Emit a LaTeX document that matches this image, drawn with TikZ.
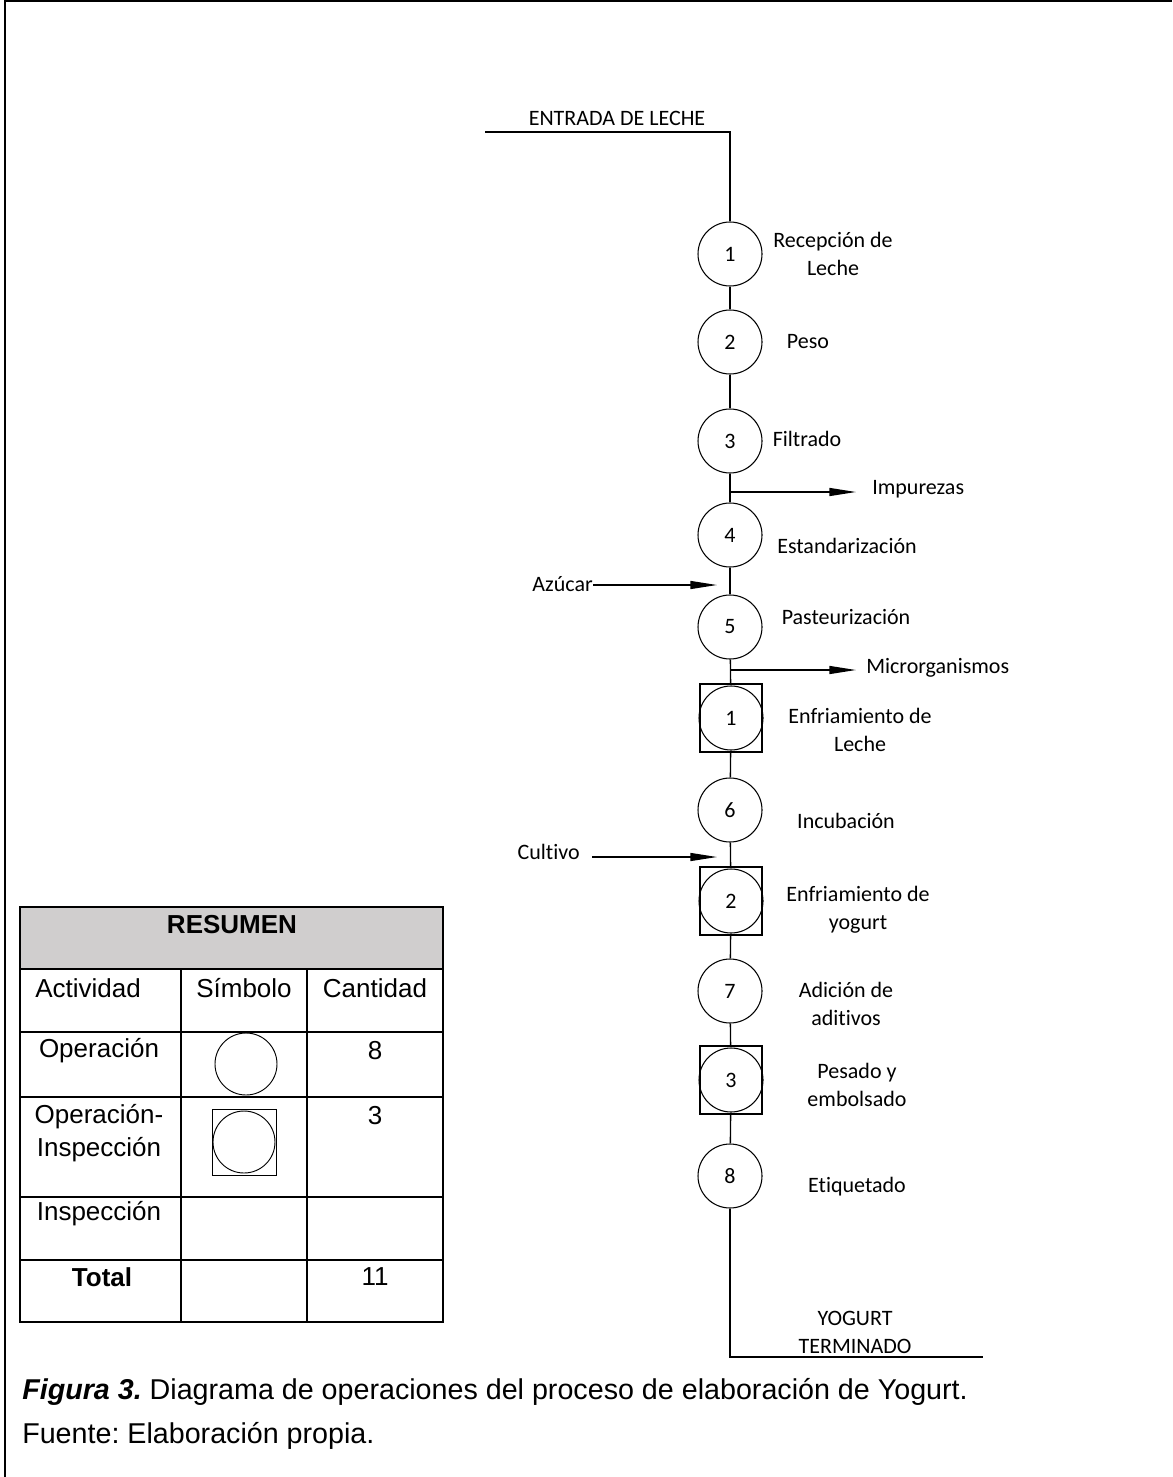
\documentclass[tikz,border=0pt]{standalone}
\usepackage{fontspec}
\setmainfont{Carlito}[Ligatures=NoCommon]
\newfontfamily\arialfont{Liberation Sans}
\usetikzlibrary{arrows.meta, positioning}
\definecolor{hdrgray}{RGB}{208,206,206}
\frenchspacing

\begin{document}
\begin{tikzpicture}[
  x=0.75pt, y=-0.75pt,
  op/.style={draw, circle, minimum size=48pt, inner sep=0pt,
             line width=0.8pt, font=\fontsize{16.5}{18}\selectfont},
  opin/.style={draw, rectangle, minimum width=46.5pt, minimum height=51pt,
               inner sep=0pt, line width=0.8pt},
  lbl/.style={font=\fontsize{16.5}{21}\selectfont, align=center, inner sep=0pt},
  tbl/.style={font=\arialfont\fontsize{19.5}{25}\selectfont, align=center, inner sep=0pt},
  flow/.style={line width=1pt},
  arr/.style={-{Triangle[length=20pt, width=6pt]}, line width=1pt}
]
\useasboundingbox (0,0) rectangle (1172,1477);
% frame
\draw[line width=1.6pt] (5,1477) -- (5,1) -- (1172,1);

% process symbols
\node[op] (op1) at (730,254) {1};
\node[op] (op2) at (730,342) {2};
\node[op] (op3) at (730,441) {3};
\node[op] (op4) at (730,535) {4};
\node[op] (op5) at (730,627) {5};
\node[opin] (oi1) at (731,718) {};
\node[op] at (oi1) {1};
\node[op] (op6) at (730,810) {6};
\node[opin] (oi2) at (731,901) {};
\node[op] at (oi2) {2};
\node[op] (op7) at (730,991) {7};
\node[opin] (oi3) at (731,1080) {};
\node[op] at (oi3) {3};
\node[op] (op8) at (730,1176) {8};

% labels
\node[lbl] (entr) at (617,118) {ENTRADA DE LECHE};
\node[lbl] (rec)  at (833,254) {Recepción de\\Leche};
\node[lbl] (peso) at (808,342) {Peso};
\node[lbl] (filt) at (807,439) {Filtrado};
\node[lbl] (est)  at (847,546) {Estandarización};
\node[lbl] (past) at (846,617) {Pasteurización};
\node[lbl] (enf1) at (860,730) {Enfriamiento de\\Leche};
\node[lbl] (incu) at (846,821) {Incubación};
\node[lbl] (enf2) at (858,910) {Enfriamiento de\\yogurt};
\node[lbl] (adic) at (846,1004) {Adición de\\aditivos};
\node[lbl] (pes)  at (857,1085) {Pesado y\\embolsado};
\node[lbl] (etiq) at (857,1187) {Etiquetado};
\node[lbl] (yog)  at (855,1332) {YOGURT\\TERMINADO};
\node[lbl, anchor=west] (imp) at (872,489) {Impurezas};
\node[lbl, anchor=west] (micro) at (866,668) {Microrganismos};
\node[lbl, anchor=east] (azu) at (593,584) {Azúcar};
\node[lbl, anchor=east] (cult) at (580,852) {Cultivo};

% main line
\coordinate (in0) at (485,132);
\coordinate (in1) at (730,132);
\coordinate (out1) at (730,1357);
\coordinate (out2) at (983,1357);
\draw[flow] (in0) -- (in1) -- (op1.north);
\draw[flow] (op1) -- (op2);
\draw[flow] (op2) -- (op3);
\draw[flow] (op3) -- (op4);
\draw[flow] (op4) -- (op5);
\draw[flow] (op5) -- (oi1);
\draw[flow] (oi1) -- (op6);
\draw[flow] (op6) -- (oi2);
\draw[flow] (oi2) -- (op7);
\draw[flow] (op7) -- (oi3);
\draw[flow] (oi3) -- (op8);
\draw[flow] (op8.south) -- (out1) -- (out2);

% side streams
\coordinate (b1) at (730,492);
\coordinate (b1e) at (856,492);
\draw[arr] (b1) -- (b1e);
\coordinate (b2) at (730,670);
\coordinate (b2e) at (856,670);
\draw[arr] (b2) -- (b2e);
\coordinate (a1e) at (717,585);
\draw[arr] (azu.east |- a1e) -- (a1e);
\coordinate (c1s) at (592,857);
\coordinate (c1e) at (717,857);
\draw[arr] (c1s) -- (c1e);

% summary table
\fill[hdrgray] (20,907) rectangle (443,969);
\draw[line width=1.5pt] (20,907) rectangle (443,1322);
\foreach \yy in {969,1032,1097,1197,1260}
  \draw[line width=1.5pt] (20,\yy) -- (443,\yy);
\draw[line width=1.5pt] (181,969) -- (181,1322);
\draw[line width=1.5pt] (307,969) -- (307,1322);
\node[tbl, font=\arialfont\bfseries\fontsize{19.5}{25}\selectfont] (res) at (232,925) {RESUMEN};
\node[tbl] (act) at (88,988) {Actividad};
\node[tbl] (sim) at (244,988) {Símbolo};
\node[tbl] (cant) at (375,988) {Cantidad};
\node[tbl] (tope) at (99,1051) {Operación};
\node[draw, circle, minimum size=46.5pt, inner sep=0pt, line width=0.7pt] (sope) at (246,1064) {};
\node[tbl] (nope) at (375,1051) {8};
\node[tbl] (topi) at (99,1133) {Operación-\\Inspección};
\node[draw, rectangle, minimum width=48pt, minimum height=49.5pt, inner sep=0pt, line width=0.7pt] (sopi) at (244,1142) {};
\node[draw, circle, minimum size=46.5pt, inner sep=0pt, line width=0.7pt] at (sopi) {};
\node[tbl] (nopi) at (375,1116) {3};
\node[tbl] (tins) at (99,1214) {Inspección};
\node[tbl, font=\arialfont\bfseries\fontsize{19.5}{25}\selectfont] (ttot) at (102,1277) {Total};
\node[tbl] (ntot) at (375,1277) {11};

% caption
\node[tbl, anchor=west, font=\arialfont\fontsize{21.5}{25}\selectfont] (cap) at (22,1392)
  {\textbf{\textit{Figura 3.}} Diagrama de operaciones del proceso de elaboración de Yogurt.};
\node[tbl, anchor=west, font=\arialfont\fontsize{21.5}{25}\selectfont] (src) at (22,1436)
  {Fuente: Elaboración propia.};
\end{tikzpicture}
\end{document}
